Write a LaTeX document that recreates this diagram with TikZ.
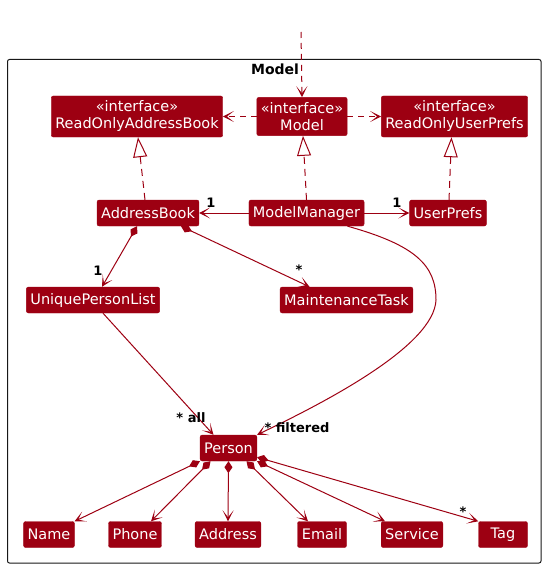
\documentclass[tikz,border=0pt]{standalone}
\usepackage{fontspec}
\setmainfont{DejaVu Sans}
\usepackage{xcolor}
\usetikzlibrary{arrows.meta}
\definecolor{modelred}{HTML}{9D0012}
\definecolor{framegray}{HTML}{181818}
\tikzset{
  cls/.style={fill=modelred,draw=modelred,rounded corners=2pt,text=white,
    font=\fontsize{14.5}{17}\selectfont,align=center,inner xsep=4pt,
    inner ysep=5pt,minimum height=26pt,minimum width=49pt},
  mult/.style={font=\fontsize{13}{15}\selectfont\bfseries,inner sep=0pt},
  vtip/.style={-{Stealth[length=11pt,width=11pt,inset=7pt]}},
  dep/.style={draw=modelred,line width=1pt,dash pattern=on 6pt off 5pt,vtip},
  real/.style={draw=modelred,line width=1pt,dash pattern=on 7pt off 5pt,
    -{Triangle[open,length=20pt,width=14pt]}},
  assoc/.style={draw=modelred,line width=1pt,vtip},
  comp/.style={draw=modelred,line width=1pt,
    {Diamond[length=12pt,width=8pt]}-{Stealth[length=11pt,width=11pt,inset=7pt]}},
}

\begin{document}
\begin{tikzpicture}[x=1pt,y=-1pt]
\useasboundingbox (0,0) rectangle (546,569);
% package frame
\draw[framegray,line width=1pt,rounded corners=2pt] (7.5,59.5) rectangle (541,563);
\node[mult,font=\fontsize{14}{16}\selectfont\bfseries] (pkg) at (275,69) {Model};

% interfaces
\node[cls] (roab) at (137,116.5) {«interface»\\ReadOnlyAddressBook};
\node[cls] (model) at (302,116.5) {«interface»\\Model};
\node[cls] (roup) at (454.5,116.5) {«interface»\\ReadOnlyUserPrefs};

% classes
\node[cls] (ab) at (148,213) {AddressBook};
\node[cls] (mm) at (306.5,213) {ModelManager};
\node[cls] (up) at (448,213) {UserPrefs};
\node[cls] (upl) at (93,300) {UniquePersonList};
\node[cls] (mt) at (346.5,300) {MaintenanceTask};
\node[cls] (person) at (228.5,448) {Person};

\node[cls] (name) at (49,534.5) {Name};
\node[cls] (phone) at (135,534.5) {Phone};
\node[cls] (address) at (228,534.5) {Address};
\node[cls] (email) at (322,534.5) {Email};
\node[cls] (service) at (412,534.5) {Service};
\node[cls] (tag) at (503,534.5) {Tag};

% connectors
\coordinate (outside) at (301,32);
\draw[dep] (outside) -- (model.north);
\draw[dep] (model.west) -- (roab.east);
\draw[dep] (model.east) -- (roup.west);

\draw[real] ([xshift=-3pt]ab.north) -- ([xshift=1pt]roab.south);
\draw[real] (mm.north) -- ([xshift=1pt]model.south);
\draw[real] ([xshift=1pt]up.north) -- ([xshift=-3pt]roup.south);

\draw[assoc] (mm.west) -- (ab.east);
\draw[assoc] (mm.east) -- (up.west);
\node[mult] (abone) at (211,203) {1};
\node[mult] (upone) at (397,203) {1};

\draw[comp] ([xshift=-11pt]ab.south) -- ([xshift=9pt]upl.north);
\draw[comp] ([xshift=33pt]ab.south) -- ([xshift=-37pt]mt.north);
\node[mult] (uplone) at (98,271) {1};
\node[mult] (mtmany) at (299,270) {*};

\draw[assoc] ([xshift=10pt]upl.south) -- ([xshift=-15pt]person.north);
\draw[assoc] ([xshift=41pt]mm.south) .. controls (415,245) and (436,265) .. (436,300)
  .. controls (434,345) and (330,400) .. (person.north east);
\node[mult] (alllbl) at (191,418) {* all};
\node[mult] (filtlbl) at (297,428) {* filtered};

\draw[comp] (person.south west) -- (name.north east);
\draw[comp] ([xshift=-18pt]person.south) -- ([xshift=16pt]phone.north);
\draw[comp] (person.south) -- (address.north);
\draw[comp] ([xshift=18pt]person.south) -- ([xshift=-14pt]email.north);
\draw[comp] (person.south east) -- ([xshift=-27pt]service.north);
\draw[comp] ([yshift=4pt]person.south east) -- (tag.north west);
\node[mult] (tagmany) at (463,512) {*};
\end{tikzpicture}
\end{document}
